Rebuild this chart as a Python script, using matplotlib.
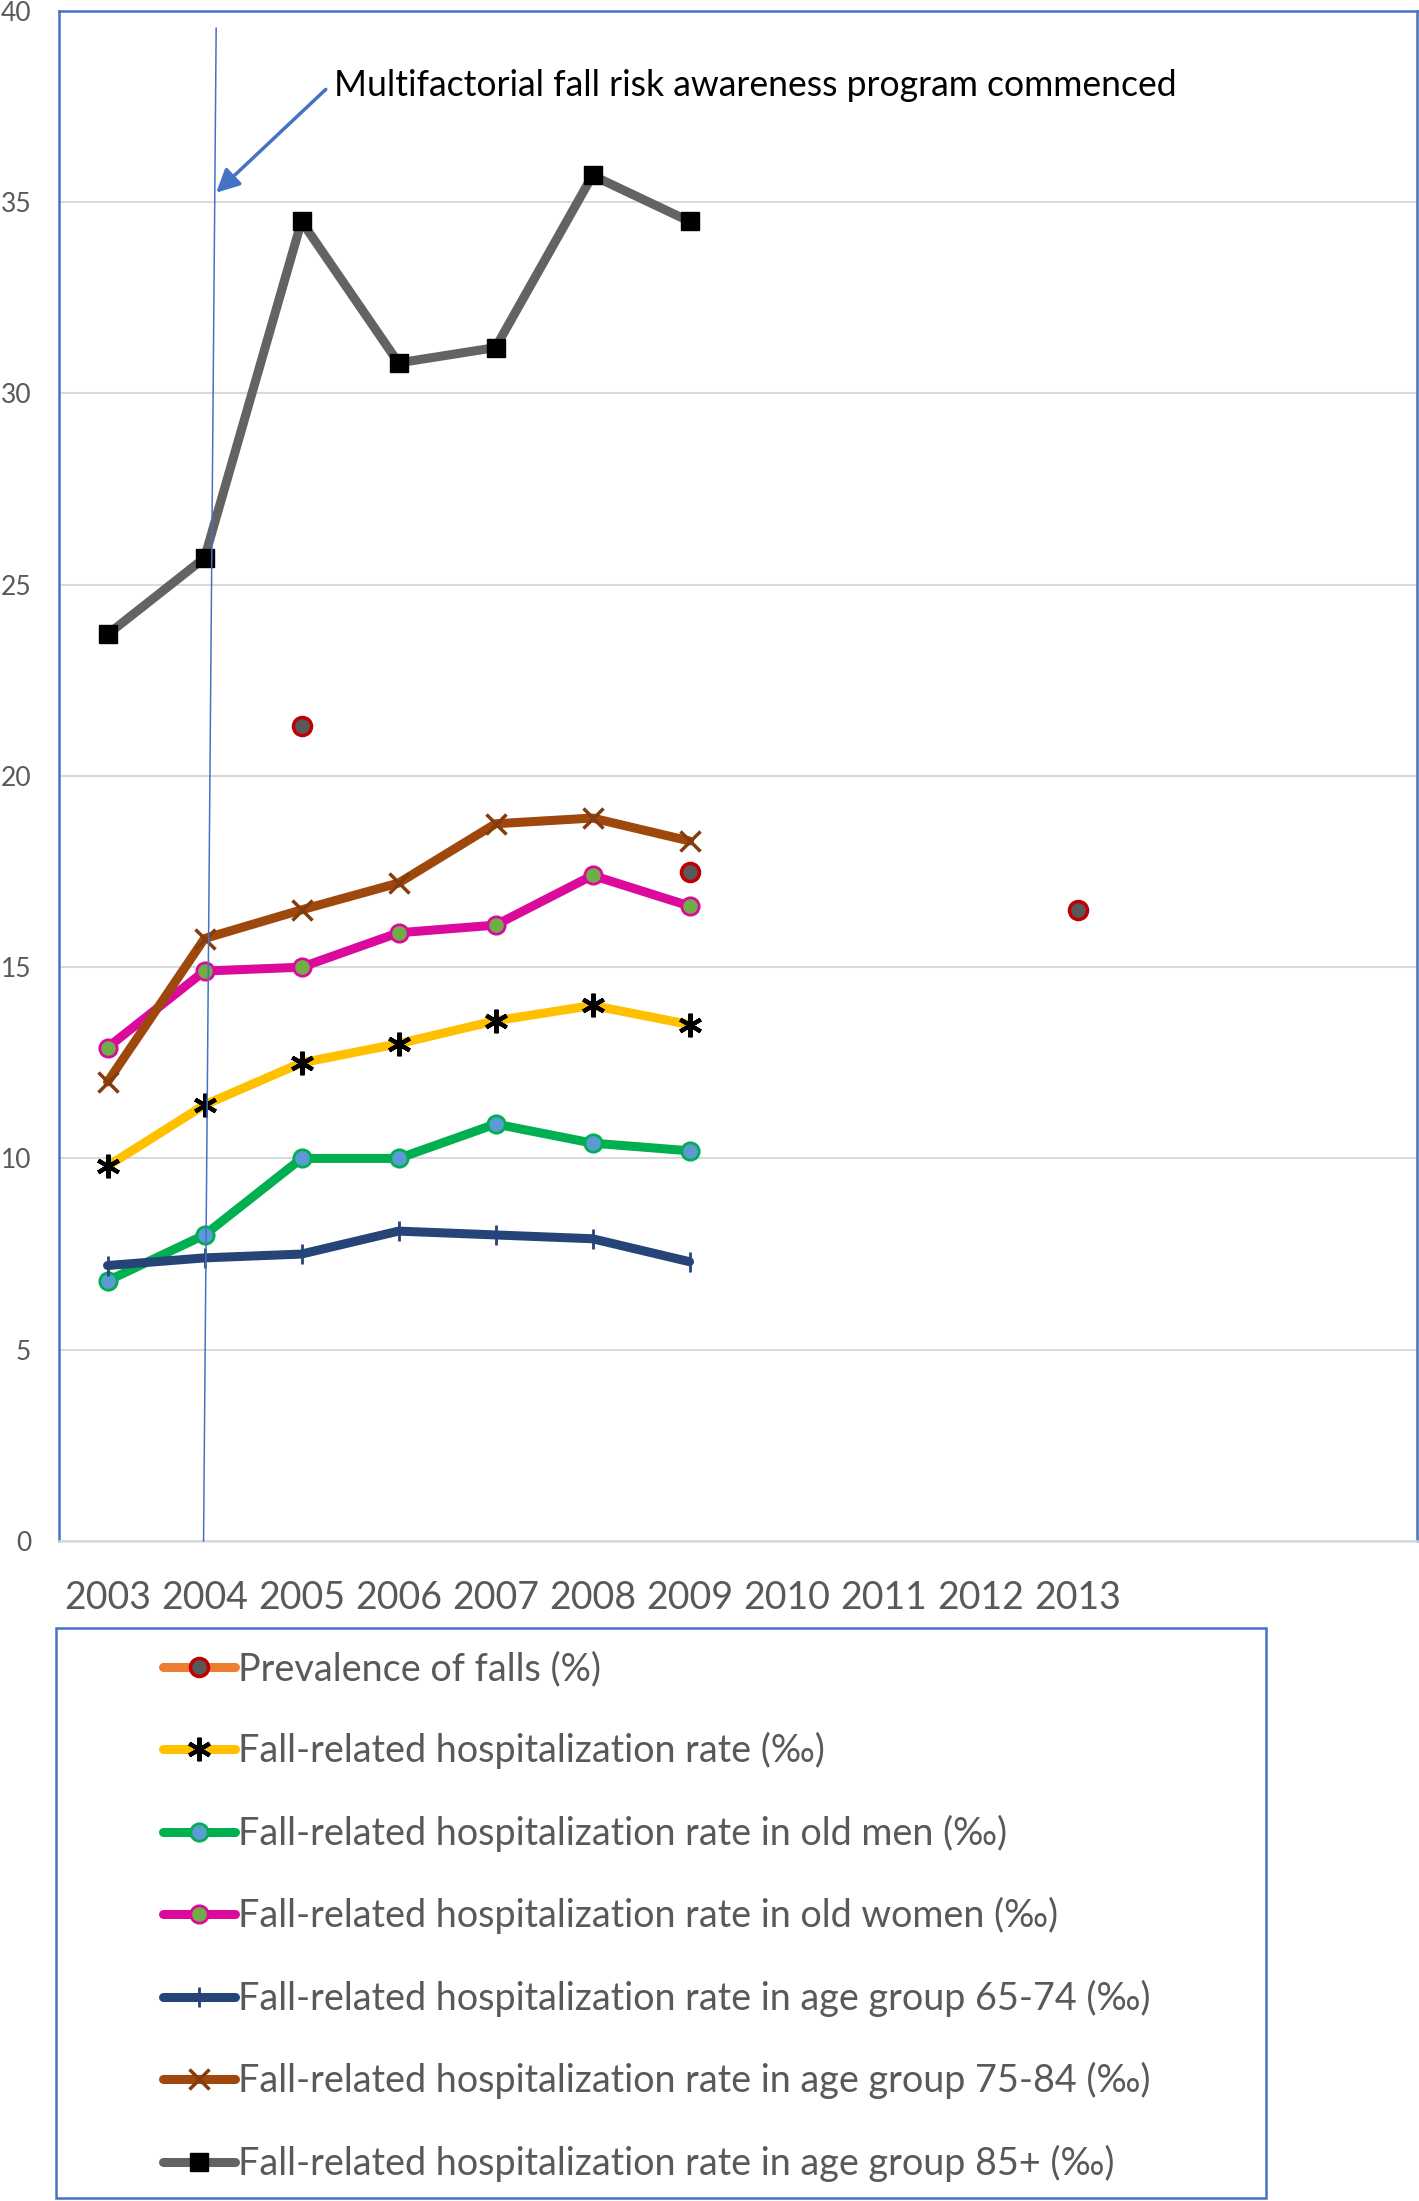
import matplotlib.pyplot as plt
import matplotlib.patches as mpatches
import numpy as np

plt.rcParams['font.family'] = ['Lato', 'DejaVu Sans']

nan = np.nan
years = [2003, 2004, 2005, 2006, 2007, 2008, 2009, 2010, 2011, 2012, 2013]
prevalence = [nan, nan, 21.3, nan, nan, nan, 17.5, nan, nan, nan, 16.5]
hosp_rate = [9.8, 11.4, 12.5, 13.0, 13.6, 14.0, 13.5, nan, nan, nan, nan]
hosp_men = [6.8, 8.0, 10.0, 10.0, 10.9, 10.4, 10.2, nan, nan, nan, nan]
hosp_women = [12.9, 14.9, 15.0, 15.9, 16.1, 17.4, 16.6, nan, nan, nan, nan]
hosp_65_74 = [7.2, 7.4, 7.5, 8.1, 8.0, 7.9, 7.3, nan, nan, nan, nan]
hosp_75_84 = [12.0, 15.75, 16.5, 17.2, 18.75, 18.9, 18.3, nan, nan, nan, nan]
hosp_85 = [23.7, 25.7, 34.5, 30.8, 31.2, 35.7, 34.5, nan, nan, nan, nan]

labels = [
    'Prevalence of falls (%)',
    'Fall-related hospitalization rate (\u2030)',
    'Fall-related hospitalization rate in old men (\u2030)',
    'Fall-related hospitalization rate in old women (\u2030)',
    'Fall-related hospitalization rate in age group 65-74 (\u2030)',
    'Fall-related hospitalization rate in age group 75-84 (\u2030)',
    'Fall-related hospitalization rate in age group 85+ (\u2030)',
]
note = 'Multifactorial fall risk awareness program commenced'

# program start marker line and arrow (data coords)
start_line_x = [2004.12, 2003.99]
start_line_y = [39.55, 0]
arrow_tail = (2005.25, 37.95)
arrow_head = (2004.12, 35.25)

blue = '#4472C4'
grey_txt = '#595959'
lw = 6.5

fig = plt.figure(figsize=(14.19, 22.01), dpi=100)
ax = fig.add_axes([0.0416, 0.2999, 0.957, 0.6951])

styles = [
    dict(color='#ED7D31', marker='o', ms=13, mfc='#595959', mec='#C00000', mew=2.5),
    dict(color='#FFC000', marker=(6, 2, 0), ms=17, mfc='black', mec='black', mew=3),
    dict(color='#00B050', marker='o', ms=12.5, mfc='#5B9BD5', mec='#00B050', mew=2),
    dict(color='#DB0A9C', marker='o', ms=12.5, mfc='#70AD47', mec='#DB0A9C', mew=2),
    dict(color='#264478', marker='|', ms=15, mec='#264478', mew=2),
    dict(color='#9E480E', marker='x', ms=15, mec='#843C0C', mew=2.5),
    dict(color='#636363', marker='s', ms=13, mfc='black', mec='black', mew=1),
]
series = [prevalence, hosp_rate, hosp_men, hosp_women, hosp_65_74, hosp_75_84, hosp_85]

handles = []
for vals, st, lab in zip(series, styles, labels):
    h, = ax.plot(years, vals, lw=lw, solid_capstyle='round', label=lab, **st)
    handles.append(h)

ax.set_xlim(2002.5, 2016.5)
ax.set_ylim(0, 40)
ax.set_xticks(years)
ax.set_yticks(range(0, 41, 5))
ax.tick_params(axis='x', length=0, pad=28, labelsize=27, labelcolor=grey_txt)
ax.tick_params(axis='y', length=0, pad=20, labelsize=19, labelcolor=grey_txt)
ax.grid(axis='y', color='#D9D9D9', lw=1.5)
ax.set_axisbelow(True)
for side in ['left', 'top', 'right']:
    ax.spines[side].set_color(blue)
    ax.spines[side].set_linewidth(1.8)
ax.spines['bottom'].set_color('#D9D9D9')
ax.spines['bottom'].set_linewidth(1.8)

ax.plot(start_line_x, start_line_y, color=blue, lw=1.1, zorder=10, clip_on=False)
ax.annotate('', xy=arrow_head, xytext=arrow_tail,
            arrowprops=dict(arrowstyle='-|>', color=blue, lw=2.5, mutation_scale=35,
                            shrinkA=0, shrinkB=0), zorder=11)
ax.text(2005.33, 38.05, note, fontsize=25.6, color='black', va='center', ha='left')

fig.patches.append(mpatches.Rectangle((0.0395, 0.0014), 0.8527, 0.259,
                                      transform=fig.transFigure, fill=False,
                                      edgecolor=blue, lw=1.8))
fig.legend(handles=handles, loc='upper left', bbox_to_anchor=(0.1152, 0.2499),
           frameon=False, fontsize=27.2, labelcolor=grey_txt, handlelength=1.9,
           handletextpad=0.07, labelspacing=1.2, borderpad=0, borderaxespad=0)

fig.savefig('out.png', dpi=100)
